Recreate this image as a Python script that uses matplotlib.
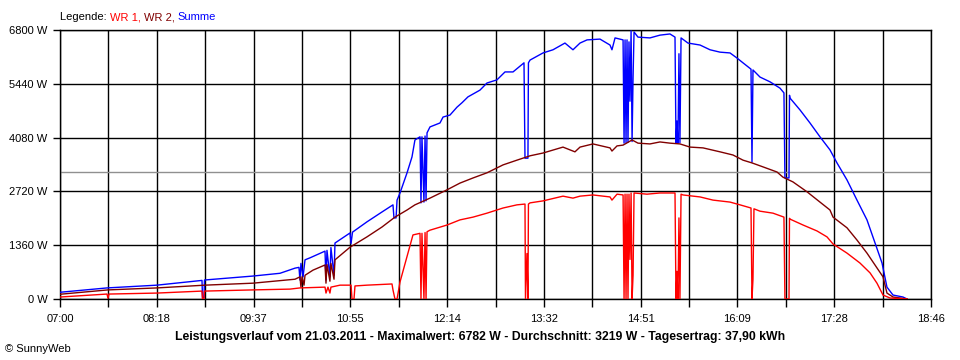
import matplotlib
matplotlib.use("Agg")
import matplotlib.pyplot as plt

plt.rcParams["font.family"] = ["Liberation Sans", "DejaVu Sans"]

# minutes after 07:00 and power in W
sum_min = [0, 38.1, 78.6, 115.1, 115.5, 116.7, 117.1, 156.4, 178.3, 190.5,
           193.7, 194.5, 195.3, 197.0, 198.6, 202.6, 214.8, 215.6, 216.4, 218.8,
           219.6, 222.1, 222.9, 235.1, 235.9, 237.1, 248.8, 261.0, 269.9, 270.7,
           272.4, 273.2, 275.6, 281.3, 285.3, 287.7, 291.8, 292.6, 293.4, 295.0,
           295.9, 296.7, 297.5, 299.9, 308.0, 310.5, 316.1, 321.8, 325.8, 330.7,
           340.4, 346.1, 354.2, 360.7, 367.2, 376.1, 376.9, 379.3, 379.7, 381.0,
           391.5, 399.6, 409.3, 415.8, 421.5, 427.2, 437.7, 445.8, 447.4, 449.9,
           456.4, 457.2, 458.0, 458.8, 459.6, 460.4, 461.2, 462.0, 462.9, 463.7,
           464.5, 465.3, 468.5, 478.2, 486.3, 494.4, 498.5, 499.3, 500.1, 500.9,
           501.7, 502.5, 503.4, 509.0, 518.8, 526.9, 535.0, 543.1, 548.8, 553.6,
           560.1, 560.9, 561.7, 567.4, 575.5, 583.6, 586.8, 587.6, 590.9, 591.3,
           591.7, 599.8, 607.9, 616.0, 624.1, 629.8, 637.9, 646.0, 654.1, 660.6,
           666.3, 670.3, 675.2, 683.3, 686.6]
sum_w = [170, 280, 350, 470, 40, 40, 480, 580, 650, 780,
         800, 480, 900, 560, 990, 1040, 1210, 480, 1230, 560,
         1300, 600, 1415, 1670, 1400, 1690, 1950, 2200, 2380, 2050,
         2050, 2500, 2680, 3190, 3590, 4020, 4100, 2430, 4100, 2450,
         4120, 2480, 4200, 4350, 4450, 4600, 4650, 4850, 4960, 5110,
         5280, 5460, 5540, 5740, 5740, 5970, 3560, 3560, 5970, 6040,
         6220, 6300, 6470, 6300, 6470, 6550, 6570, 6420, 6300, 6600,
         6550, 3940, 6550, 3950, 6550, 3960, 6500, 5000, 6780, 3980,
         5600, 6750, 6620, 6600, 6670, 6700, 6620, 3940, 4500, 3940,
         6200, 3950, 6600, 6470, 6420, 6300, 6240, 6220, 6090, 5970,
         5810, 3460, 5790, 5610, 5490, 5330, 5210, 3060, 3060, 5150,
         5080, 4780, 4450, 4100, 3770, 3440, 3010, 2500, 2000, 1420,
         910, 300, 100, 50, 0]

wr1_min = [0, 38.1, 38.9, 39.7, 78.6, 115.1, 115.5, 116.7, 117.1, 156.4,
           186.4, 194.5, 214.8, 215.6, 217.2, 218.8, 219.6, 227.0, 235.9, 236.7,
           238.3, 239.1, 248.8, 269.1, 269.9, 271.5, 273.2, 275.6, 286.1, 291.8,
           292.6, 293.4, 295.0, 295.9, 296.7, 297.5, 299.9, 313.7, 324.2, 334.8,
           346.1, 359.1, 370.4, 376.9, 377.3, 378.5, 379.3, 379.7, 381.0, 391.5,
           407.7, 415.8, 421.5, 432.0, 445.8, 447.4, 451.5, 456.4, 457.2, 458.0,
           458.8, 459.6, 460.4, 461.2, 462.0, 462.9, 463.7, 464.5, 465.3, 475.8,
           486.3, 498.5, 499.3, 500.1, 500.9, 501.7, 502.5, 503.4, 505.0, 518.8,
           529.3, 543.1, 551.2, 560.1, 560.9, 561.7, 562.5, 567.4, 577.9, 586.8,
           587.6, 590.9, 591.3, 591.7, 602.3, 613.6, 621.7, 626.6, 637.9, 648.4,
           656.6, 662.2, 667.1, 672.8, 686.6]
wr1_w = [50, 125, 20, 125, 150, 200, 0, 0, 200, 230,
         250, 280, 300, 150, 300, 150, 300, 350, 350, 0,
         0, 330, 350, 380, 230, 0, 0, 430, 1620, 1660,
         0, 1660, 0, 1680, 0, 1700, 1740, 1870, 2000, 2070,
         2170, 2300, 2380, 2400, 0, 1150, 0, 2400, 2430, 2480,
         2600, 2550, 2600, 2630, 2580, 2500, 2650, 2630, 0, 2650,
         0, 2650, 0, 2650, 1000, 2680, 0, 600, 2680, 2650,
         2680, 2680, 0, 700, 0, 2050, 0, 2650, 2630, 2580,
         2500, 2450, 2380, 2300, 0, 500, 2280, 2220, 2170, 2070,
         0, 0, 2040, 2020, 1870, 1720, 1570, 1390, 1160, 910,
         660, 400, 100, 25, 0]

wr2_min = [0, 38.9, 78.6, 117.5, 156.4, 190.5, 194.5, 195.3, 196.2, 197.8,
           198.6, 205.1, 214.8, 215.6, 216.4, 218.8, 219.6, 222.1, 222.9, 235.1,
           248.8, 261.0, 271.5, 281.3, 287.7, 299.9, 313.7, 324.2, 334.8, 346.1,
           359.1, 370.4, 381.0, 391.5, 407.7, 417.4, 421.5, 432.0, 445.8, 447.4,
           451.5, 456.4, 463.7, 468.5, 478.2, 486.3, 494.4, 502.5, 510.7, 521.2,
           535.0, 545.5, 553.6, 560.9, 569.8, 581.2, 586.0, 594.1, 605.5, 616.0,
           624.1, 626.6, 637.9, 646.0, 654.1, 660.6, 667.1, 670.3, 675.2, 686.6]
wr2_w = [120, 230, 280, 350, 400, 500, 560, 300, 560, 350,
         600, 730, 860, 400, 870, 450, 900, 500, 990, 1310,
         1570, 1820, 2070, 2250, 2380, 2550, 2760, 2930, 3060, 3190,
         3390, 3510, 3620, 3690, 3840, 3720, 3840, 3920, 3820, 3740,
         3870, 3890, 4020, 3940, 3920, 3970, 3940, 3920, 3840, 3820,
         3720, 3640, 3510, 3440, 3340, 3210, 3080, 2960, 2710, 2450,
         2250, 2070, 1800, 1490, 1160, 860, 560, 150, 50, 0]

y_ticks = [0, 1360, 2720, 4080, 5440, 6800]
x_labels = ["07:00", "08:18", "09:37", "10:55", "12:14",
            "13:32", "14:51", "16:09", "17:28", "18:46"]
span_min = 706
average_w = 3219

fig = plt.figure(figsize=(9.6, 3.6), dpi=100)
ax = fig.add_axes([60 / 960, 1 - 299 / 360, 871 / 960, 269 / 360])

n_div = 2 * (len(x_labels) - 1)
x_ticks = [span_min * i / n_div for i in range(n_div + 1)]
tick_text = []
for i in range(n_div + 1):
    tick_text.append(x_labels[i // 2] if i % 2 == 0 else "")

for x in x_ticks:
    ax.axvline(x, color="black", lw=1.0, zorder=1)
for y in y_ticks:
    ax.axhline(y, color="black", lw=1.0, zorder=1)
ax.axhline(average_w, color="#909090", lw=1.0, zorder=1)

ax.plot(sum_min, sum_w, color="#0000ff", lw=1.0, zorder=3)
ax.plot(wr2_min, wr2_w, color="#800000", lw=1.0, zorder=4)
ax.plot(wr1_min, wr1_w, color="#ff0000", lw=1.0, zorder=5)

ax.set_xlim(0, span_min)
ax.set_ylim(0, 6800)
ax.set_xticks(x_ticks)
ax.set_xticklabels(tick_text)
ax.set_yticks(y_ticks)
ax.set_yticklabels([f"{v} W" for v in y_ticks])
ax.tick_params(axis="both", direction="out", length=5, width=1.0,
               color="black", labelsize=8, pad=4)
ax.tick_params(axis="x", length=6, pad=5)
for s in ax.spines.values():
    s.set_color("black")
    s.set_linewidth(1.0)

# colored legend line at the top left
leg = fig.text(60 / 960, 1 - 17 / 360, "Legende: ", fontsize=8,
               color="black", va="center", ha="left")
prev = leg
for label, col in [("WR 1, ", "#ff0000"), ("WR 2, ", "#800000"), ("Summe", "#0000ff")]:
    prev = ax.annotate(label, xy=(1, 0), xycoords=prev, va="bottom",
                       ha="left", fontsize=8, color=col)

fig.text(480 / 960, 1 - 337 / 360,
         "Leistungsverlauf vom 21.03.2011 - Maximalwert: 6782 W - "
         "Durchschnitt: 3219 W - Tagesertrag: 37,90 kWh",
         fontsize=8.8, fontweight="bold", ha="center", va="center")
fig.text(5 / 960, 1 - 349 / 360, "© SunnyWeb", fontsize=8,
         ha="left", va="center")

fig.savefig("out.png", dpi=100, facecolor="white")
